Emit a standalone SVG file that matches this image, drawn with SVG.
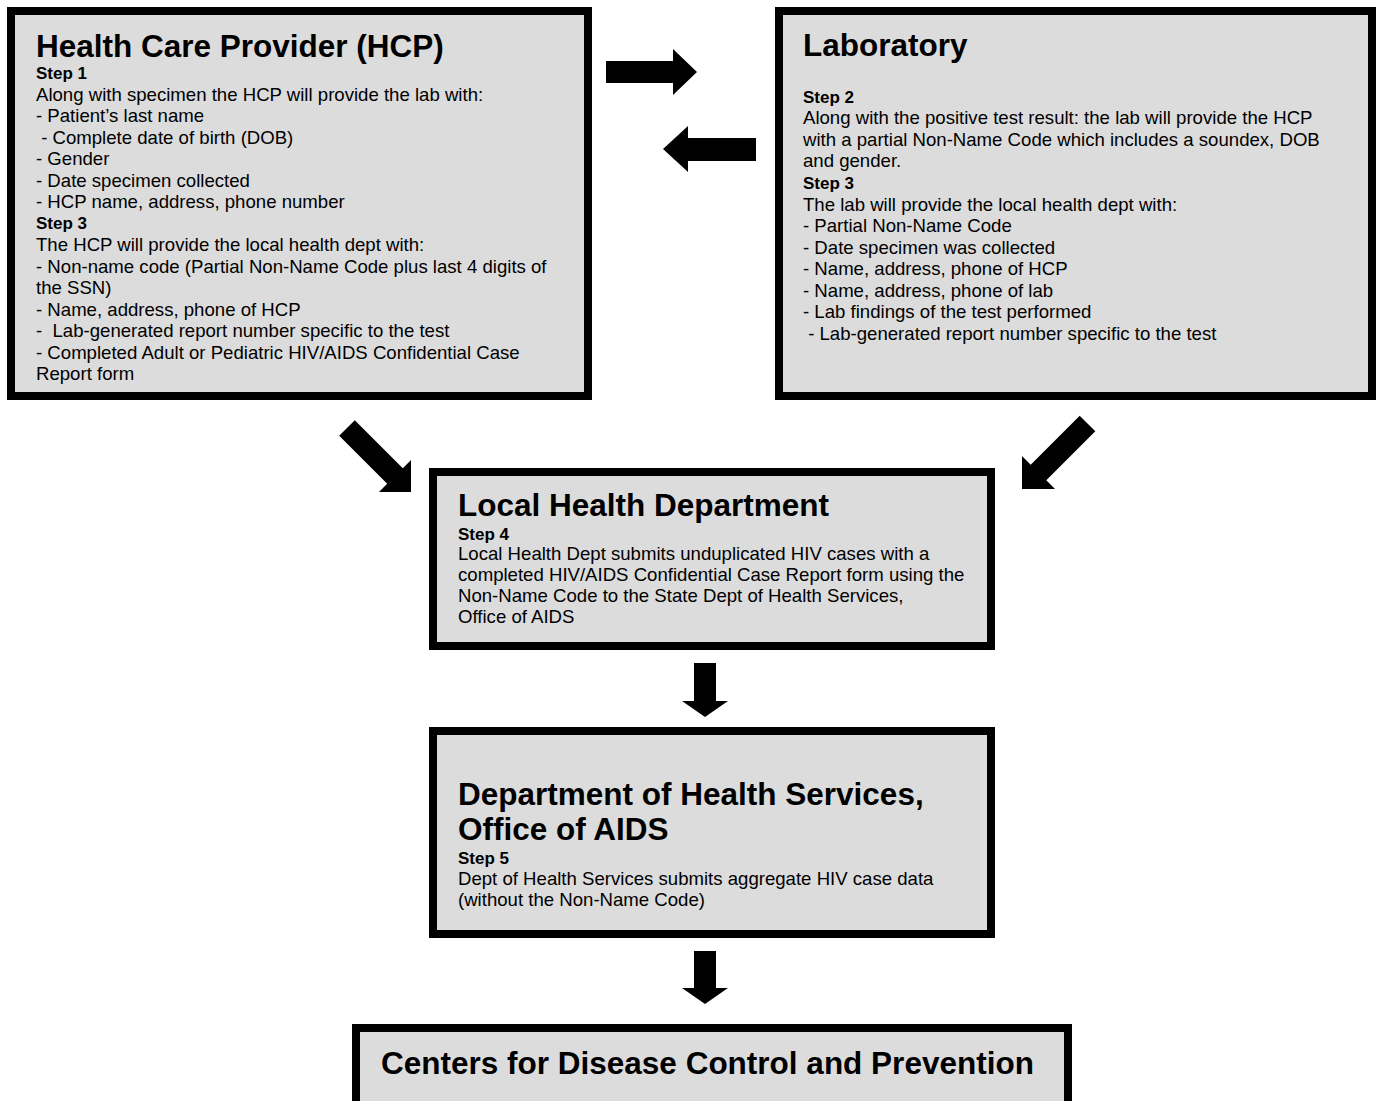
<svg xmlns="http://www.w3.org/2000/svg" width="1377" height="1101" viewBox="0 0 1377 1101">
<style>
.box{fill:#dcdcdc;stroke:#000;stroke-width:8}
.t{font-family:"Liberation Sans",Arial,sans-serif;font-weight:bold;font-size:31.5px;fill:#000}
.s{font-family:"Liberation Sans",Arial,sans-serif;font-weight:bold;font-size:17px;fill:#000}
.b{font-family:"Liberation Sans",Arial,sans-serif;font-size:18.6px;fill:#000}
.arr{fill:#000}
</style>
<rect width="1377" height="1101" fill="#fff"/>
<g id="hcp">
<rect class="box" x="11" y="11" width="577" height="385"/>
<text class="t" x="36" y="57">Health Care Provider (HCP)</text>
<text class="s" x="36" y="79">Step 1</text>
<text class="b" x="36" y="101">Along with specimen the HCP will provide the lab with:</text>
<text class="b" x="36" y="122">- Patient’s last name</text>
<text class="b" x="36" y="144" xml:space="preserve"> - Complete date of birth (DOB)</text>
<text class="b" x="36" y="165">- Gender</text>
<text class="b" x="36" y="187">- Date specimen collected</text>
<text class="b" x="36" y="208">- HCP name, address, phone number</text>
<text class="s" x="36" y="229">Step 3</text>
<text class="b" x="36" y="251">The HCP will provide the local health dept with:</text>
<text class="b" x="36" y="273">- Non-name code (Partial Non-Name Code plus last 4 digits of</text>
<text class="b" x="36" y="294">the SSN)</text>
<text class="b" x="36" y="316">- Name, address, phone of HCP</text>
<text class="b" x="36" y="337" xml:space="preserve">-  Lab-generated report number specific to the test</text>
<text class="b" x="36" y="359">- Completed Adult or Pediatric HIV/AIDS Confidential Case</text>
<text class="b" x="36" y="380">Report form</text>
</g>
<g id="lab">
<rect class="box" x="779" y="11" width="593" height="385"/>
<text class="t" x="803" y="56">Laboratory</text>
<text class="s" x="803" y="103">Step 2</text>
<text class="b" x="803" y="124">Along with the positive test result: the lab will provide the HCP</text>
<text class="b" x="803" y="146">with a partial Non-Name Code which includes a soundex, DOB</text>
<text class="b" x="803" y="167">and gender.</text>
<text class="s" x="803" y="189">Step 3</text>
<text class="b" x="803" y="211">The lab will provide the local health dept with:</text>
<text class="b" x="803" y="232">- Partial Non-Name Code</text>
<text class="b" x="803" y="254">- Date specimen was collected</text>
<text class="b" x="803" y="275">- Name, address, phone of HCP</text>
<text class="b" x="803" y="297">- Name, address, phone of lab</text>
<text class="b" x="803" y="318">- Lab findings of the test performed</text>
<text class="b" x="803" y="340" xml:space="preserve"> - Lab-generated report number specific to the test</text>
</g>
<g id="lhd">
<rect class="box" x="433" y="472" width="558" height="174"/>
<text class="t" x="458" y="516">Local Health Department</text>
<text class="s" x="458" y="540">Step 4</text>
<text class="b" x="458" y="560">Local Health Dept submits unduplicated HIV cases with a</text>
<text class="b" x="458" y="581">completed HIV/AIDS Confidential Case Report form using the</text>
<text class="b" x="458" y="602">Non-Name Code to the State Dept of Health Services,</text>
<text class="b" x="458" y="623">Office of AIDS</text>
</g>
<g id="dhs">
<rect class="box" x="433" y="731" width="558" height="203"/>
<text class="t" x="458" y="805">Department of Health Services,</text>
<text class="t" x="458" y="840">Office of AIDS</text>
<text class="s" x="458" y="864">Step 5</text>
<text class="b" x="458" y="885">Dept of Health Services submits aggregate HIV case data</text>
<text class="b" x="458" y="906">(without the Non-Name Code)</text>
</g>
<g id="cdc">
<rect class="box" x="356" y="1028" width="712" height="100"/>
<text class="t" x="381" y="1074">Centers for Disease Control and Prevention</text>
</g>
<g id="connectors">
<polygon class="arr" points="606,61 673,61 673,49 697,72 673,95 673,83 606,83"/>
<polygon class="arr" points="756,138 688,138 688,126 663,149 688,172 688,161 756,161"/>
<polygon class="arr" points="354.8,420.2 402.8,468.2 411,460 411,492 379,492 387.2,483.8 339.2,435.8"/>
<polygon class="arr" points="1079.7,415.7 1095.3,431.3 1046.3,480.3 1055,489 1022,489 1022,456 1030.7,464.7"/>
<polygon class="arr" points="694,663 716,663 716,701 728,701 705,717 682,701 694,701"/>
<polygon class="arr" points="694,951 716,951 716,988 728,988 705,1004 682,988 694,988"/>
</g>
</svg>
